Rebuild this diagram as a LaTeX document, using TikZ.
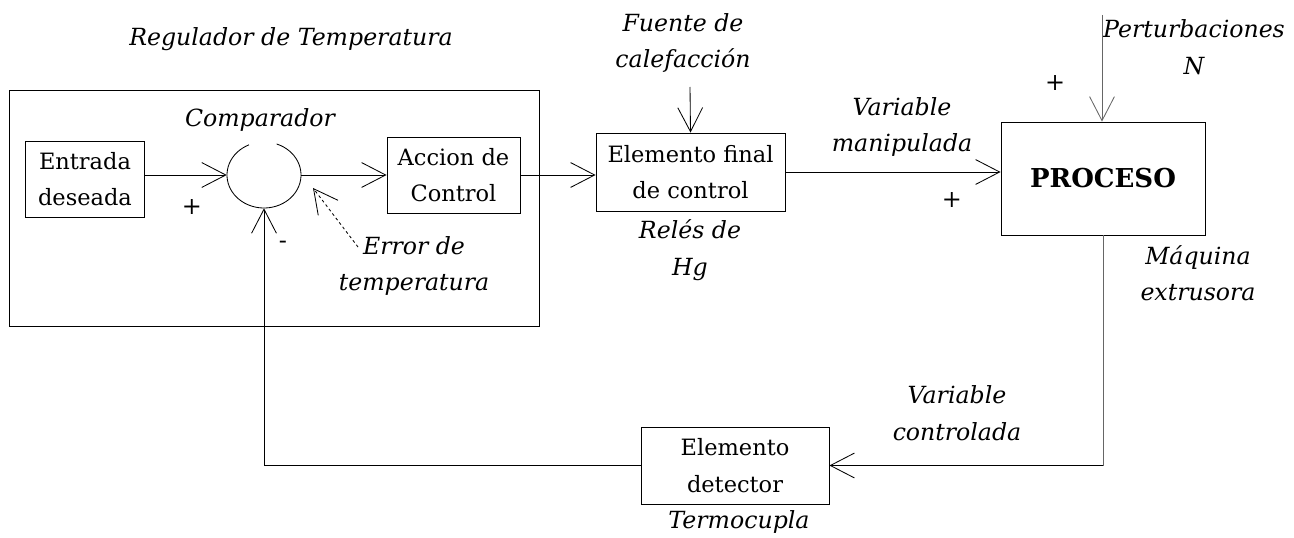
\documentclass[tikz,border=0pt]{standalone}
\usepackage{fontspec}
\setmainfont{DejaVu Serif}
\usetikzlibrary{arrows.meta,shapes.geometric}
\tikzset{
	bloque/.style={draw, line width=0.6pt, align=center, inner sep=0pt, font=\fontsize{16}{26}\selectfont},
	etiqueta/.style={align=center, inner sep=0pt, font=\itshape\fontsize{16.8}{26}\selectfont},
	signo/.style={inner sep=0pt, font=\fontsize{17}{17}\selectfont},
	linea/.style={line width=0.6pt},
	flecha/.style={line width=0.6pt, -{Straight Barb[length=0.6cm, width=0.62cm, line width=0.6pt]}},
}

\begin{document}
\begin{tikzpicture}[x=0.025cm, y=-0.025cm]
	\useasboundingbox (0,0) rectangle (1294,538);
	%%%%% BLOQUES %%%%%
	
	\draw[linea] (9, 90) rectangle (539, 326);
	\node[bloque, minimum width=2.975cm, minimum height=1.9cm] (entrada) at (85, 179) {Entrada\\deseada};
	\node[ellipse, minimum width=1.85cm, minimum height=1.65cm, inner sep=0pt] (comp) at (264, 175) {};
	\draw[linea] ([shift={(290:37 and 33)}]comp.center) arc[start angle=290, end angle=606, x radius=37, y radius=33];
	\node[bloque, minimum width=3.325cm, minimum height=1.9cm] (accion) at (453.5, 175) {Accion de\\Control};
	\node[bloque, minimum width=4.725cm, minimum height=1.95cm] (final) at (690.5, 172) {Elemento final\\de control};
	\node[bloque, minimum width=5.1cm, minimum height=2.825cm, font=\bfseries\fontsize{18.5}{26}\selectfont] (proceso) at (1103, 178.5) {PROCESO};
	\node[bloque, minimum width=4.7cm, minimum height=1.925cm] (detector) at (735, 465.5) {Elemento\\detector};
	
	%%%%% ETIQUETAS %%%%%
	
	\node[etiqueta] (regulador) at (291, 39) {Regulador de Temperatura};
	\node[etiqueta] (comparador) at (260, 120) {Comparador};
	\node[etiqueta] (error) at (414, 266) {Error de\\temperatura};
	\node[etiqueta] (fuente) at (683, 43) {Fuente de\\calefacción};
	\node[etiqueta] (reles) at (690, 250) {Relés de\\Hg};
	\node[etiqueta] (manipulada) at (902, 127) {Variable\\manipulada};
	\node[etiqueta] (pert) at (1194, 47) {Perturbaciones\\N};
	\node[etiqueta] (maquina) at (1198, 273) {Máquina\\extrusora};
	\node[etiqueta] (controlada) at (957, 413) {Variable\\controlada};
	\node[etiqueta] (termocupla) at (739, 522) {Termocupla};
	\node[signo] (mas1) at (192, 207) {+};
	\node[signo] (menos) at (283, 245) {-};
	\node[signo] (mas2) at (952, 200) {+};
	\node[signo] (mas3) at (1055, 83) {+};
	
	%%%%% FLECHAS %%%%%
	
	\draw[flecha] (entrada.east |- comp.west) -- (comp.west);
	\draw[flecha] (comp.east) -- (accion.west);
	\draw[flecha] (accion.east) -- (accion.east -| final.west);
	\draw[flecha] (final.east) -- (final.east -| proceso.west);
	
	\coordinate (fuente_a) at (690, 87);
	\draw[flecha] (fuente_a) -- (final.north);
	
	\coordinate (pert_a) at (1102, 15);
	\draw[flecha, black!60] (pert_a) -- (pert_a |- proceso.north);
	
	\coordinate (err_a) at (358, 247);
	\coordinate (err_b) at (313, 188);
	\draw[flecha, dash pattern=on 2pt off 2pt] (err_a) -- (err_b);
	
	\coordinate (esquina) at (proceso.south |- detector.east);
	\draw[linea, black!60] (proceso.south) -- (esquina);
	\draw[flecha] (esquina) -- (detector.east);
	\draw[flecha] (detector.west) -| (comp.south);
	
\end{tikzpicture}
\end{document}
